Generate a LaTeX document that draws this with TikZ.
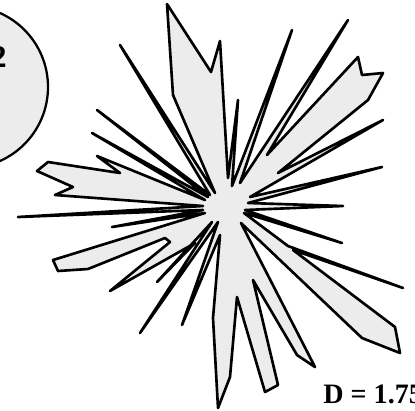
\documentclass[tikz,border=0pt]{standalone}
\usepackage{fontspec}
\setmainfont{Liberation Serif}

\begin{document}
\begin{tikzpicture}[
    x=0.02cm, y=-0.02cm,
    shape fill/.style={
        draw=black,
        line width=1.5pt,
        line join=round,
        fill=gray!15
    },
    dlabel/.style={font=\bfseries\fontsize{16}{16}\selectfont, inner sep=0pt}
]

    \useasboundingbox (0,0) rectangle (415,410);
    \clip (0,0) rectangle (415,410);

    % neighbouring disc, cut by the frame
    \draw [shape fill, line width=1.3pt] (-33,87) circle (81);
    \node (disclabel) [dlabel, font=\bfseries\fontsize{18}{18}\selectfont, anchor=base east] at (7,67) {2};

    % the spiky cluster
    \draw [shape fill]
        (215,193) -- (173,95) -- (167,4) -- (211,72) -- (220,41) -- (228,178)
        -- (238,100) -- (232,186) -- (292,30) -- (240,183) -- (348,20)
        -- (267,155) -- (358,57) -- (362,75) -- (383,73) -- (368,100)
        -- (278,173) -- (383,120) -- (250,197) -- (382,167) -- (248,203)
        -- (343,206) -- (245,210) -- (342,243) -- (244,213) -- (288,246)
        -- (403,288) -- (293,250) -- (395,327) -- (400,353) -- (362,338)
        -- (241,223) -- (315,367) -- (297,355) -- (253,280) -- (278,385)
        -- (265,392) -- (237,297) -- (230,377) -- (218,408) -- (213,318)
        -- (220,235) -- (182,325) -- (218,222) -- (140,333) -- (212,222)
        -- (157,282) -- (195,243) -- (110,291) -- (170,242) -- (165,238)
        -- (88,269) -- (58,271) -- (53,260) -- (205,213) -- (112,227)
        -- (203,210) -- (18,217) -- (203,206) -- (55,195) -- (73,187)
        -- (37,171) -- (48,162) -- (120,173) -- (97,156) -- (205,200)
        -- (92,133) -- (208,197) -- (97,110) -- (210,195) -- (120,45)
        -- cycle;

    \node (dvalue) [dlabel, anchor=base west] at (323,403) {D = 1.75};

\end{tikzpicture}
\end{document}
